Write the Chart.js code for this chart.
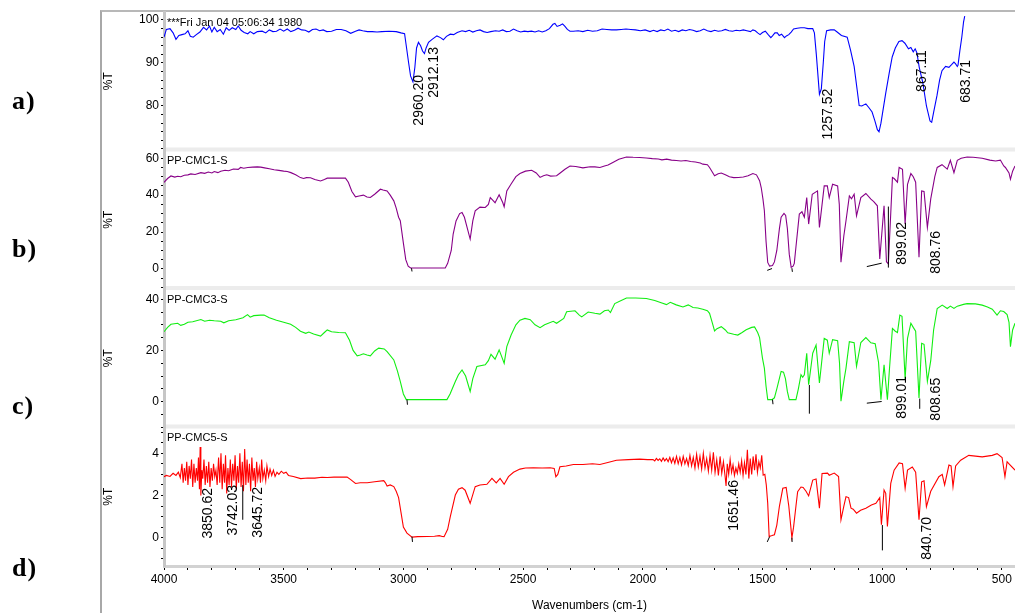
<!DOCTYPE html>
<html>
<head>
<meta charset="utf-8">
<script src="https://cdn.jsdelivr.net/npm/chart.js@4.4.1/dist/chart.umd.min.js"></script>
<style>
  html, body { margin: 0; padding: 0; background: #fff; }
  #wrap { position: relative; width: 1015px; height: 613px; overflow: hidden; }
  #frame { position: absolute; left: 100px; top: 10px; width: 915px; height: 603px;
           border-left: 2px solid #a8a8a8; border-top: 2px solid #b8b8b8; box-sizing: border-box; }
  .tag { position: absolute; left: 12px; font: bold 26px "Liberation Serif", "Times New Roman", serif;
         color: #000; letter-spacing: 1px; line-height: 30px; }
  canvas { position: absolute; left: 0; top: 0; }
</style>
</head>
<body>
<div id="wrap">
  <div id="frame"></div>
  <canvas id="ftir" width="1015" height="613"></canvas>
  <div class="tag" style="top:86px">a)</div>
  <div class="tag" style="top:234px">b)</div>
  <div class="tag" style="top:391px">c)</div>
  <div class="tag" style="top:553px">d)</div>
</div>
<script>
// ---- spectra: [wavenumber (cm-1), %T] ----
const spectrumA = [
  [4000,96],[3990,97.8],[3975,98],[3962,97],[3950,95.5],[3938,96.4],[3925,96.6],[3912,96.8],[3900,97.5],
  [3890,96.2],[3878,96],[3865,96.6],[3850,97.2],[3835,98.3],[3822,97.7],[3810,98.6],[3800,97.2],[3790,98.3],
  [3778,97.3],[3765,97.8],[3752,96.7],[3740,98.2],[3728,97.6],[3715,98.2],[3700,97.8],[3690,98.6],[3678,97.6],
  [3665,97.1],[3650,96.8],[3640,97.3],[3625,96.8],[3610,97.3],[3590,97.4],[3575,97],[3560,97.7],[3545,97.3],
  [3530,97.4],[3515,97.9],[3500,97.4],[3485,97.9],[3470,97.3],[3455,97.6],[3440,98.1],[3425,97.7],[3410,97.6],
  [3395,97.2],[3380,97.8],[3365,97.9],[3350,97.5],[3335,97.7],[3320,97.3],[3300,97.4],[3280,97.8],[3260,97.8],
  [3240,97.5],[3220,96.9],[3200,97.4],[3185,97.7],[3170,97.5],[3150,97.3],[3130,97.3],[3110,97.2],[3090,97.3],
  [3060,97.4],[3030,97.3],[3010,97],[2995,96.8],[2988,94],[2978,90],[2970,87],[2960,85.6],[2952,89],
  [2945,93.5],[2937,94.8],[2928,94],[2920,92.8],[2912,92.2],[2905,93.5],[2895,94.8],[2880,95.5],[2860,96.3],
  [2845,95.9],[2833,95.4],[2820,96.2],[2804,96.7],[2790,96.6],[2775,97.1],[2755,97.5],[2740,97.3],[2725,97.6],
  [2710,97.2],[2695,97.5],[2680,97.7],[2665,97.3],[2650,97.1],[2635,97.3],[2615,97.5],[2600,97.4],[2585,97.7],
  [2570,97.3],[2555,97.4],[2540,97.9],[2525,97.5],[2510,97.2],[2495,97.4],[2480,97.3],[2465,97.4],[2450,97.2],
  [2435,97.5],[2420,97.2],[2405,97.5],[2390,98],[2375,99],[2367,99.2],[2358,98.5],[2345,98.8],[2335,99.1],
  [2325,98.5],[2315,97.8],[2304,97.4],[2290,97.4],[2270,97.5],[2250,97.3],[2230,97.6],[2210,97.4],[2190,97.5],
  [2170,97.9],[2150,97.8],[2130,97.7],[2110,97.7],[2090,97.8],[2070,97.9],[2050,97.8],[2030,97.7],[2010,97.5],
  [1990,97.7],[1970,97.3],[1955,97.6],[1940,97.3],[1925,97.7],[1910,97.5],[1895,97.9],[1880,97.4],[1865,97.6],
  [1850,97.3],[1835,97.7],[1820,97.5],[1805,97.8],[1790,97.6],[1775,97.3],[1760,97.5],[1745,97.9],[1730,97.5],
  [1715,97.3],[1700,97.6],[1685,97.4],[1670,97.5],[1655,97.8],[1640,97.5],[1625,97.4],[1610,97.6],[1595,97.5],
  [1580,97.7],[1565,97.5],[1550,97.3],[1540,97.7],[1530,97.5],[1520,97],[1510,96.6],[1500,97.1],[1488,97.4],
  [1476,96.6],[1465,95.9],[1458,96.3],[1448,97],[1438,97],[1430,96.4],[1420,96.7],[1408,95.9],[1400,96.3],
  [1390,96.6],[1380,97.2],[1370,97.9],[1355,98.1],[1340,98.2],[1325,98.2],[1310,98],[1290,98],[1283,97],
  [1275,92],[1268,87],[1262,82.7],[1254,84],[1246,90],[1240,95],[1232,97.5],[1215,97.7],[1200,97.7],
  [1188,97.2],[1170,96.4],[1146,96],[1132,93],[1117,89.2],[1105,84],[1096,80.1],[1085,80],[1068,80.5],
  [1055,79.6],[1042,78.6],[1030,76.5],[1020,74.5],[1013,74],[1005,76],[985,83],[970,87.8],[958,91.4],
  [945,93.5],[930,95],[917,95.2],[905,94.6],[890,93.3],[880,93.6],[870,92.6],[862,93.3],[855,92.4],
  [845,89],[830,85.4],[815,80],[800,76.5],[793,76.2],[785,78.5],[771,82.4],[760,86],[750,88.2],[735,89.2],
  [721,89],[710,89.6],[700,90.2],[693,89.8],[686,89.2],[683,89.5],[675,93],[667,96.1],[660,99.5],[655,100.9]
];
const spectrumB = [
  [4000,46.9],[3985,49],[3971,50.4],[3955,49.8],[3943,50.2],[3930,50],[3915,50.8],[3900,51],[3888,51.5],
  [3870,51.2],[3846,52.2],[3830,51.8],[3815,52.5],[3800,52],[3790,52.8],[3775,52.2],[3763,53],[3745,53.5],
  [3730,53.2],[3710,54.2],[3690,54],[3680,55],[3667,54.6],[3650,55],[3630,55.2],[3610,55.3],[3596,55.2],
  [3580,54.8],[3560,54.3],[3540,53.8],[3520,53.4],[3500,53],[3485,52.8],[3470,52.2],[3450,51],[3430,49.5],
  [3417,49],[3405,49.5],[3388,49.4],[3370,48.5],[3346,47.7],[3330,48.5],[3318,49.2],[3300,49.3],[3270,49.2],
  [3242,49.2],[3230,47],[3215,42],[3200,39.1],[3185,39.5],[3167,40],[3152,39],[3138,38.7],[3120,40.5],
  [3096,43.2],[3085,42.8],[3068,42.3],[3055,40],[3040,36.9],[3030,33],[3020,28],[3013,26.1],[3000,14],
  [2990,5],[2980,1.5],[2970,0.5],[2900,0.5],[2840,0.5],[2825,0.5],[2815,3],[2800,10],[2792,18.9],[2780,26],
  [2765,30],[2755,30.6],[2745,28],[2735,23],[2721,16.2],[2710,26],[2700,31.5],[2680,33.5],[2658,33.3],
  [2645,35],[2637,38.7],[2625,37],[2617,35.9],[2600,40.2],[2585,36],[2579,33.7],[2568,42.3],[2550,46],
  [2530,50],[2513,51.7],[2490,53],[2464,53.5],[2445,52],[2429,49.6],[2415,50.5],[2401,51],[2385,50.3],
  [2360,50.5],[2345,52],[2325,54],[2304,55.8],[2280,55.5],[2250,54.8],[2220,55.4],[2200,55.3],[2179,55],
  [2160,55.8],[2145,56.3],[2135,57],[2125,57.7],[2100,59.5],[2068,60.7],[2040,60.5],[2013,60.4],[1985,60.1],
  [1960,59.8],[1935,59.6],[1920,59.1],[1900,59.5],[1880,59],[1860,58.8],[1840,58.5],[1820,58.8],[1800,58.2],
  [1780,58],[1760,57.4],[1749,56.8],[1730,56.5],[1721,55],[1700,50.5],[1685,51.6],[1672,52],[1655,51],
  [1638,50],[1620,49.5],[1600,49.6],[1580,49.8],[1560,50.5],[1540,51.7],[1525,51],[1512,47.8],[1505,44],
  [1498,38],[1492,31.5],[1485,15],[1478,3.5],[1470,1.5],[1458,1.8],[1450,3.8],[1440,10],[1429,22],
  [1422,28],[1410,30.1],[1403,29],[1396,22],[1388,8],[1380,0.8],[1372,1.5],[1367,3],[1360,12],[1346,29.7],
  [1335,31],[1325,28],[1315,38.7],[1307,24.3],[1292,40.5],[1270,42.3],[1262,22.5],[1242,45],[1229,45],
  [1221,38.7],[1207,45.9],[1186,45],[1179,35],[1172,3.6],[1160,18],[1151,26.1],[1137,39.6],[1128,38],
  [1117,40.5],[1107,28.8],[1089,38.7],[1068,40.9],[1047,37.8],[1035,36.5],[1020,34.2],[1010,5.4],[992,34.2],
  [982,3.8],[974,2.7],[957,49.6],[950,49],[936,47],[929,55],[915,54],[904,24.3],[894,45.9],[880,51.7],
  [870,50],[860,47],[846,6.3],[835,42.3],[825,42],[811,22.5],[797,38],[780,50],[770,55],[750,56.5],
  [728,54.1],[715,58.9],[700,52.2],[686,58.9],[670,60],[645,60.7],[620,60.5],[582,60],[550,59],[526,58.5],
  [506,59],[492,55.8],[485,55],[470,52],[464,48.6],[455,53],[445,55.8]
];
const spectrumC = [
  [4000,27.3],[3985,29],[3971,30.2],[3943,30.6],[3930,29.8],[3915,30.2],[3900,31],[3880,31.2],[3846,32.1],
  [3830,31.4],[3810,31.8],[3790,31.6],[3763,31.4],[3750,30.8],[3730,31.6],[3700,32],[3670,32.8],[3651,34],
  [3640,33],[3625,33.6],[3596,33.8],[3582,33.8],[3560,32.8],[3530,31.8],[3500,31],[3471,30.2],[3450,29],
  [3430,27.5],[3408,26.7],[3395,27.2],[3375,26.4],[3346,25.6],[3330,27],[3318,28],[3300,27.3],[3270,27],
  [3242,26.9],[3225,24],[3210,20],[3193,17.9],[3180,18.2],[3167,18.7],[3152,18.2],[3138,17.9],[3120,19.8],
  [3103,20.9],[3080,20.6],[3068,19.5],[3040,16.3],[3025,12],[3013,7.9],[3000,3],[2988,0.8],[2900,0.8],
  [2818,0.8],[2805,3],[2783,7.9],[2770,10.5],[2755,12.4],[2740,10],[2721,4],[2710,9],[2693,13.7],
  [2658,14.4],[2645,16],[2634,18.5],[2617,16.6],[2600,20.2],[2585,16.5],[2579,15],[2568,21.5],[2550,26],
  [2530,30],[2513,31.8],[2492,32.5],[2470,32],[2450,30],[2429,28.9],[2410,30],[2374,31.4],[2360,30.6],
  [2330,32.5],[2318,35.1],[2283,35.5],[2265,33.8],[2255,33.1],[2228,35],[2200,34.5],[2179,34.2],[2160,35.5],
  [2144,35.8],[2135,34.8],[2117,38.3],[2090,39.5],[2068,40.5],[2030,40.5],[1985,40.3],[1950,39.5],[1920,38.5],
  [1901,37.9],[1885,38.8],[1860,37.8],[1832,37],[1810,37.8],[1790,36.8],[1770,36.6],[1749,36.1],[1730,35.5],
  [1721,34.5],[1710,31],[1700,27.6],[1690,28.5],[1672,29.3],[1655,28],[1645,26.9],[1620,26.3],[1603,26],
  [1585,27],[1568,28.1],[1545,29],[1533,29.2],[1520,27],[1512,25],[1500,17],[1492,13.1],[1485,6],[1478,0.8],
  [1460,0.8],[1450,1.5],[1440,5],[1422,11.8],[1412,11.5],[1404,9],[1396,4],[1388,0.8],[1360,0.8],[1350,5],
  [1339,10.5],[1332,9.5],[1325,10.5],[1315,18.9],[1307,6.6],[1290,18.9],[1276,22.1],[1262,7.3],[1242,24.7],
  [1229,24],[1221,18.9],[1207,24.2],[1186,23.8],[1178,15],[1172,0.2],[1160,8],[1151,13.1],[1137,23.4],
  [1117,23],[1107,13.8],[1089,23.1],[1068,25],[1047,23],[1029,22.6],[1015,15.3],[1005,0.8],[992,14.4],
  [978,0.8],[970,12],[957,28.6],[945,27.5],[936,27],[926,33.8],[917,33.3],[904,8.9],[894,24.7],[880,30.6],
  [870,29],[860,27.5],[846,1.4],[835,22.8],[825,22.4],[811,7.9],[797,16],[785,28],[770,36.4],[749,37.7],
  [728,36.4],[715,37.3],[700,36.4],[686,37.3],[660,38],[645,38.3],[610,38.2],[582,37.7],[560,37],[540,36.1],
  [520,33.8],[506,35.5],[492,35.2],[478,34],[470,31],[464,21.5],[455,28],[445,30.6]
];
const spectrumD = [
  [4000,2.89],[3990,2.95],[3975,2.9],[3962,3.05],[3950,2.95],[3940,3.1],[3932,2.85],[3925,3.5],[3920,2.6],
  [3915,3.3],[3910,2.7],[3905,3.6],[3900,2.5],[3895,3.4],[3890,2.8],[3885,3.7],[3880,2.4],[3875,3.5],
  [3870,2.6],[3865,3.3],[3860,2.7],[3856,3.8],[3852,2.3],[3849,4.3],[3846,2.0],[3842,3.2],[3838,2.8],
  [3833,3.7],[3828,2.5],[3823,3.4],[3818,2.6],[3813,3.6],[3808,2.4],[3803,3.3],[3798,2.7],[3793,3.5],
  [3788,2.9],[3783,3.2],[3778,2.5],[3772,3.8],[3767,2.6],[3762,4.0],[3757,2.3],[3752,3.5],[3747,2.6],
  [3743,3.9],[3738,2.1],[3733,3.3],[3728,2.5],[3723,3.7],[3718,2.4],[3713,3.5],[3708,2.7],[3703,3.9],
  [3698,2.3],[3693,3.4],[3688,2.6],[3683,4.0],[3678,2.4],[3673,3.6],[3668,2.2],[3663,4.2],[3658,2.5],
  [3653,3.7],[3648,2.6],[3643,3.5],[3638,2.2],[3633,3.8],[3628,2.7],[3623,3.3],[3618,2.4],[3613,3.6],
  [3608,2.8],[3602,3.3],[3597,2.6],[3592,3.7],[3587,2.8],[3581,3.2],[3575,2.7],[3570,3.4],[3563,2.9],
  [3557,3.25],[3550,2.95],[3543,3.2],[3536,2.9],[3528,3.1],[3520,3.0],[3510,3.15],[3500,3.05],[3490,3.1],
  [3480,2.95],[3460,2.9],[3429,2.8],[3400,2.83],[3370,2.82],[3340,2.86],[3318,2.85],[3290,2.87],[3260,2.87],
  [3235,2.87],[3220,2.75],[3200,2.57],[3180,2.6],[3151,2.6],[3120,2.65],[3082,2.7],[3075,2.6],[3068,2.45],
  [3055,2.5],[3040,2.42],[3030,2.2],[3020,1.9],[3010,1.2],[3000,0.5],[2985,0.22],[2964,0.03],[2940,0.05],
  [2900,0.06],[2870,0.07],[2850,0.1],[2838,0.06],[2830,0.05],[2815,0.4],[2804,1.0],[2783,2.02],[2770,2.3],
  [2755,2.37],[2742,2.25],[2721,1.63],[2700,2.42],[2680,2.5],[2651,2.53],[2630,2.81],[2612,2.6],[2596,2.81],
  [2579,2.53],[2561,2.89],[2540,3.1],[2513,3.25],[2490,3.3],[2457,3.31],[2420,3.3],[2387,3.31],[2370,3.28],
  [2363,2.89],[2355,3.0],[2346,3.36],[2320,3.4],[2290,3.47],[2250,3.47],[2210,3.5],[2179,3.47],[2150,3.55],
  [2110,3.67],[2060,3.7],[2013,3.72],[1980,3.7],[1957,3.7],[1950,3.64],[1943,3.76],[1936,3.66],[1929,3.74],
  [1922,3.62],[1915,3.78],[1908,3.64],[1901,3.75],[1894,3.6],[1887,3.8],[1880,3.55],[1873,3.78],[1866,3.52],
  [1859,3.85],[1852,3.5],[1845,3.8],[1838,3.45],[1831,3.85],[1824,3.5],[1817,3.75],[1810,3.42],[1803,3.9],
  [1796,3.4],[1789,3.8],[1782,3.3],[1775,3.95],[1768,3.35],[1761,3.85],[1754,3.25],[1747,4.0],[1740,3.3],
  [1733,3.75],[1726,3.15],[1719,3.9],[1712,3.2],[1705,4.05],[1698,3.1],[1691,3.7],[1684,2.95],[1677,3.85],
  [1670,3.05],[1663,3.6],[1656,2.9],[1652,2.45],[1647,3.5],[1641,3.0],[1635,3.7],[1629,3.1],[1623,3.45],
  [1617,2.95],[1611,3.3],[1605,3.05],[1599,3.5],[1593,3.1],[1587,3.65],[1581,2.95],[1575,3.55],[1569,3.0],
  [1563,4.17],[1557,2.8],[1551,3.75],[1545,3.0],[1539,3.85],[1533,3.2],[1527,3.95],[1521,3.1],[1515,3.6],
  [1509,3.3],[1503,3.9],[1497,2.96],[1490,3.0],[1484,2.5],[1478,1.63],[1472,0.06],[1460,0.1],[1450,0.14],
  [1440,0.6],[1429,1.5],[1415,2.34],[1401,2.38],[1390,1.5],[1377,-0.01],[1370,0.5],[1360,1.5],[1353,2.18],
  [1339,2.4],[1330,2.38],[1318,2.2],[1307,1.98],[1290,2.73],[1276,2.78],[1262,1.4],[1251,3.04],[1228,3.06],
  [1221,2.96],[1200,3.06],[1182,2.9],[1172,0.85],[1160,1.5],[1151,1.94],[1140,1.9],[1130,1.4],[1121,1.35],
  [1107,1.16],[1090,1.3],[1068,1.4],[1045,1.55],[1026,1.63],[1010,1.9],[1003,0.61],[992,2.26],[985,2.1],
  [978,0.53],[964,2.57],[950,3.2],[929,3.54],[915,3.5],[904,2.34],[894,3.2],[874,3.35],[860,3.1],[846,0.85],
  [835,2.65],[825,2.7],[815,1.47],[797,2.2],[763,2.89],[749,3.0],[739,2.5],[721,3.44],[712,3.4],[704,2.42],
  [693,3.4],[672,3.67],[638,3.9],[582,3.83],[540,3.9],[520,3.98],[499,3.8],[487,2.89],[478,3.6],[470,3.5],
  [445,3.2]
];

// ---- panels ----
const panelIds = ['ya', 'yb', 'yc', 'yd'];
const panelNames = ['***Fri Jan 04 05:06:34 1980', 'PP-CMC1-S', 'PP-CMC3-S', 'PP-CMC5-S'];
const panelData = [spectrumA, spectrumB, spectrumC, spectrumD];
const panelColors = ['#0000ff', '#880088', '#11ee11', '#ff0000'];
const yMin = [69.65, -10.9, -10.1, -1.34];
const yMax = [101.86, 64.2, 44.0, 5.22];
const yMinor = [2, 5, 5, 0.5];
const yLabels = [[80, 90, 100], [0, 20, 40, 60], [0, 20, 40], [0, 2, 4]];

// ---- x axis ----
const xMin = 445, xMax = 4000, xMinor = 100;
const xLabels = [4000, 3500, 3000, 2500, 2000, 1500, 1000, 500];

// ---- peak labels ----
const peakAxis = ['ya', 'ya', 'ya', 'ya', 'ya', 'yb', 'yb', 'yc', 'yc', 'yd', 'yd', 'yd', 'yd', 'yd'];
const peakWn = [2960.20, 2912.13, 1257.52, 867.11, 683.71, 899.02, 808.76, 899.01, 808.65,
                3850.62, 3742.03, 3645.72, 1651.46, 840.70];
const peakTop = [87.2, 93.7, 84, 93, 90.7, 25.5, 20.6, 10.0, 9.3, 2.36, 2.5, 2.4, 2.73, 0.98];
const peakShift = [6, 10, 8, 8, 8, -4, 8, -4, 8, 8, 7, 9, 8, 7];

// black peak-pick markers: [axis, wn1, %T1, wn2, %T2]
const markerLines = [
  ['yb', 2966, 0.4, 2964, -1.4], ['yb', 1480, -0.8, 1460, 0.2], ['yb', 1377, 0.4, 1375, -1.6],
  ['yb', 1064, 1.25, 1002, 3.1], ['yb', 974, 33.8, 974, 0.7],
  ['yc', 2985, 0.8, 2983, -1.2], ['yc', 1458, 0.8, 1456, -1.0], ['yc', 1304, 6.5, 1304, -4.7],
  ['yc', 1064, -0.6, 1002, 0.05], ['yc', 843, 1.2, 843, -2.8],
  ['yd', 3671, 2.49, 3671, 0.85], ['yd', 2964, 0.05, 2962, -0.2], ['yd', 1480, -0.2, 1470, 0.05],
  ['yd', 1377, 0, 1376, -0.2], ['yd', 999, 0.6, 999, -0.6]
];

const sansFont = '"Liberation Sans", Arial, sans-serif';
const hasLabel = (list, v) => list.some(l => Math.abs(l - v) < 1e-6);

const overlay = {
  id: 'overlay',
  beforeDatasetsDraw(chart) {
    const ctx = chart.ctx, area = chart.chartArea;
    ctx.save();
    ctx.fillStyle = '#ececec';
    ['ya', 'yb', 'yc'].forEach(id => {
      const s = chart.scales[id];
      ctx.fillRect(area.left + 2, s.bottom - 3, area.right - area.left, 4);
    });
    ctx.restore();
  },
  afterDatasetsDraw(chart) {
    const ctx = chart.ctx, xs = chart.scales.x;
    ctx.save();
    ctx.fillStyle = '#000';
    ctx.font = '11px ' + sansFont;
    ctx.textBaseline = 'middle';
    panelIds.forEach((id, i) => {
      ctx.fillText(panelNames[i], xs.left + 3, chart.scales[id].top + 10.5);
    });

    ctx.strokeStyle = '#000';
    ctx.lineWidth = 1;
    markerLines.forEach(([id, w1, t1, w2, t2]) => {
      const s = chart.scales[id];
      ctx.beginPath();
      ctx.moveTo(xs.getPixelForValue(w1), s.getPixelForValue(t1));
      ctx.lineTo(xs.getPixelForValue(w2), s.getPixelForValue(t2));
      ctx.stroke();
    });

    ctx.font = '14px ' + sansFont;
    ctx.textAlign = 'right';
    peakWn.forEach((w, i) => {
      const s = chart.scales[peakAxis[i]];
      ctx.save();
      ctx.translate(xs.getPixelForValue(w) + peakShift[i], s.getPixelForValue(peakTop[i]));
      ctx.rotate(-Math.PI / 2);
      ctx.fillText(w.toFixed(2), 0, 0);
      ctx.restore();
    });
    ctx.restore();
  }
};

function yScale(i) {
  return {
    type: 'linear',
    position: 'left',
    stack: 'panels',
    stackWeight: 1,
    min: yMin[i],
    max: yMax[i],
    afterFit: s => { s.width = 64; },
    border: { display: true, color: '#c6c6c6', width: 3 },
    grid: { drawOnChartArea: false, color: '#000', tickLength: 3, lineWidth: 1 },
    ticks: {
      stepSize: yMinor[i],
      includeBounds: false,
      autoSkip: false,
      padding: 2,
      color: '#000',
      font: { family: sansFont, size: 12 },
      callback: v => hasLabel(yLabels[i], v) ? String(Math.round(v)) : ''
    },
    title: { display: true, text: '%T', color: '#000', font: { family: sansFont, size: 12 }, padding: { top: 1, bottom: 0 } }
  };
}

// later-defined left axes are stacked on top, so go bottom panel first
const scales = {
  x: {
    type: 'linear',
    position: 'bottom',
    reverse: true,
    min: xMin,
    max: xMax,
    afterFit: s => { s.height = 47; },
    border: { display: true, color: '#d2d2d2', width: 3 },
    grid: { drawOnChartArea: false, color: '#000', tickLength: 4, lineWidth: 1 },
    ticks: {
      stepSize: xMinor,
      includeBounds: false,
      autoSkip: false,
      maxRotation: 0,
      padding: 2,
      color: '#000',
      font: { family: sansFont, size: 12 },
      callback: v => hasLabel(xLabels, v) ? String(v) : ''
    },
    title: { display: true, text: 'Wavenumbers (cm-1)', color: '#000', font: { family: sansFont, size: 12 }, padding: { top: 3, bottom: 0 } }
  }
};
for (let i = panelIds.length - 1; i >= 0; i--) scales[panelIds[i]] = yScale(i);

new Chart(document.getElementById('ftir'), {
  type: 'line',
  data: {
    datasets: panelIds.map((id, i) => ({
      label: panelNames[i],
      data: panelData[i].map(([x, y]) => ({ x, y })),
      yAxisID: id,
      borderColor: panelColors[i],
      borderWidth: 1.1,
      pointRadius: 0,
      fill: false,
      tension: 0
    }))
  },
  options: {
    responsive: false,
    animation: false,
    devicePixelRatio: 1,
    layout: { padding: { left: 100, top: 12, right: 0, bottom: 0 } },
    plugins: { legend: { display: false }, tooltip: { enabled: false } },
    scales
  },
  plugins: [overlay]
});
</script>
</body>
</html>
